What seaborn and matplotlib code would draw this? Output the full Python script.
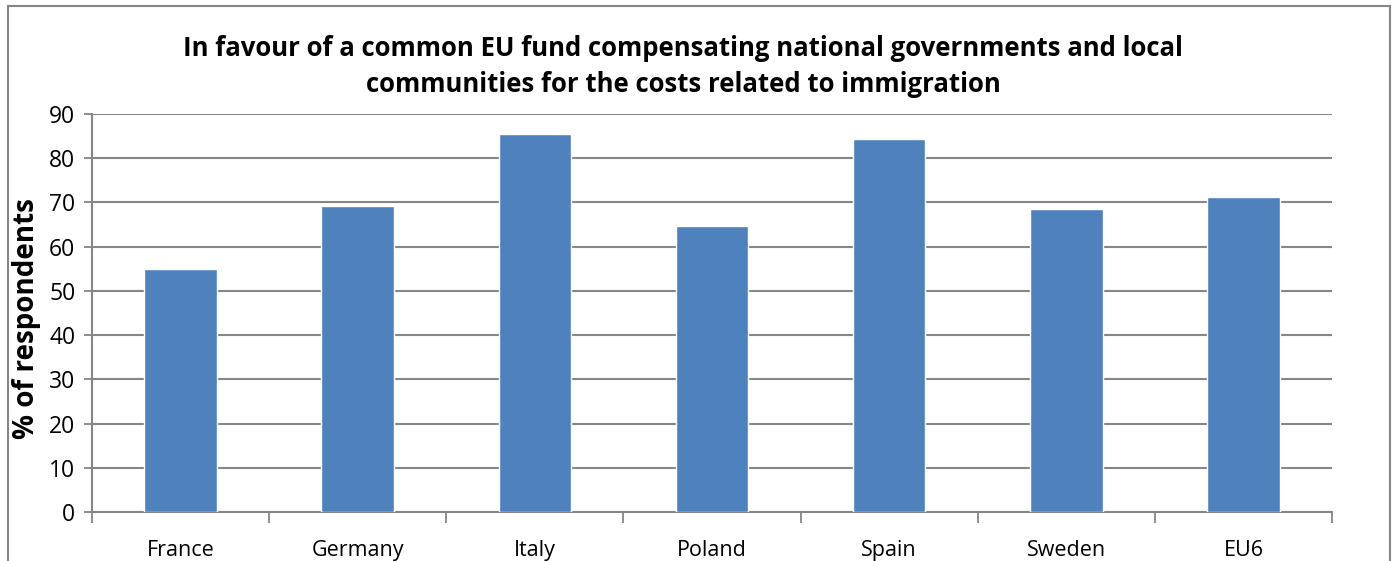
import matplotlib
matplotlib.use("Agg")
import matplotlib.pyplot as plt
import seaborn as sns
import pandas as pd
from matplotlib.patches import Rectangle

countries = ["France", "Germany", "Italy", "Poland", "Spain", "Sweden", "EU6"]
in_favour = [55.0, 69.2, 85.5, 64.6, 84.4, 68.4, 71.3]
y_ticks = [0, 10, 20, 30, 40, 50, 60, 70, 80, 90]

df = pd.DataFrame({"Country": countries, "Percent": in_favour})

sns.set_style("white")
plt.rcParams["font.family"] = ["Open Sans", "DejaVu Sans"]
plt.rcParams["text.color"] = "black"
plt.rcParams["axes.labelcolor"] = "black"
plt.rcParams["xtick.color"] = "black"
plt.rcParams["ytick.color"] = "black"

fig = plt.figure(figsize=(13.94, 5.61), dpi=100)
ax = fig.add_axes([0.066, 0.0873, 0.8895, 0.7097])

sns.barplot(data=df, x="Country", y="Percent", color="#4F81BD",
            width=0.41, saturation=1, ax=ax, zorder=3)

ax.set_ylim(0, 90)
ax.set_xlim(-0.5, len(countries) - 0.5)
ax.set_yticks(y_ticks)
ax.yaxis.grid(True, color="#868686", linewidth=1.5, zorder=0)
ax.set_axisbelow(True)

ax.set_xticks([i - 0.5 for i in range(len(countries) + 1)], minor=True)
ax.tick_params(axis="x", which="both", bottom=True)
ax.tick_params(axis="x", which="major", length=0, pad=20, labelsize=15.5)
ax.tick_params(axis="x", which="minor", length=8, width=1.3, color="#868686", direction="out")
ax.tick_params(axis="y", left=True, length=6, width=1.3, color="#868686",
               direction="out", labelsize=16.5, pad=6)

for side in ["top", "right"]:
    ax.spines[side].set_visible(False)
for side in ["left", "bottom"]:
    ax.spines[side].set_color("#868686")
    ax.spines[side].set_linewidth(1.5)

ax.set_xlabel("")
ax.set_ylabel("% of respondents", fontsize=20, fontweight="bold")
ax.yaxis.set_label_coords(-0.041, 0.485)

fig.text(0.49, 0.8815,
         "In favour of a common EU fund compensating national governments and local\n"
         "communities for the costs related to immigration",
         ha="center", va="center", fontsize=18.5, fontweight="bold", linespacing=1.4)

fig.patches.append(Rectangle((0.006, -0.05), 0.991, 1.04, transform=fig.transFigure,
                             fill=False, edgecolor="#868686", linewidth=1.5))

fig.savefig("out.png", dpi=100)
